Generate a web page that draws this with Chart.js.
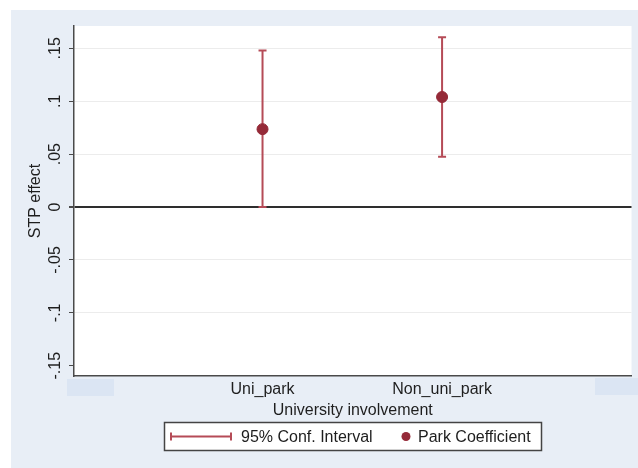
<!DOCTYPE html>
<html>
<head>
<meta charset="utf-8">
<script src="https://cdn.jsdelivr.net/npm/chart.js@4.4.1/dist/chart.umd.min.js"></script>
<style>
  html, body { margin: 0; padding: 0; background: #ffffff; }
  #wrap { width: 638px; height: 468px; position: relative; }
</style>
</head>
<body>
<div id="wrap"><canvas id="c" width="638" height="468"></canvas></div>
<script>
// Park coefficients with 95% confidence intervals, by university involvement
const categories = ['Uni_park', 'Non_uni_park'];
const coefficients = [0.0736, 0.104];
const ciLower = [0.0, 0.0475];
const ciUpper = [0.148, 0.1605];

const yTickValues = [-0.15, -0.1, -0.05, 0, 0.05, 0.1, 0.15];
const yTickLabels = ['-.15', '-.1', '-.05', '0', '.05', '.1', '.15'];

const FONT = '"Liberation Sans", Arial, sans-serif';
const FONT_SIZE = 16;
const CI_COLOR = '#b54b57';
const DOT_COLOR = '#952a38';
const TEXT_COLOR = '#1e1e1e';
const AXIS_COLOR = '#4a4a4a';

const points = categories.map((c, i) => ({ x: i + 1, y: coefficients[i] }));

// Backgrounds: outer graph region, white plot region and the two pale boxes below the axis
const backgroundPlugin = {
  id: 'backgrounds',
  beforeDraw(chart) {
    const ctx = chart.ctx;
    const a = chart.chartArea;
    ctx.save();
    ctx.fillStyle = '#ffffff';
    ctx.fillRect(0, 0, chart.width, chart.height);
    ctx.fillStyle = '#e8eef6';
    ctx.fillRect(11, 10, chart.width - 11, chart.height - 10);
    ctx.fillStyle = '#ffffff';
    ctx.fillRect(a.left, a.top, a.right - a.left, a.bottom - a.top);
    ctx.fillStyle = '#dbe5f3';
    ctx.fillRect(67, a.bottom + 3, 47, 17);
    ctx.fillRect(595, a.bottom + 2, chart.width - 595, 17);
    ctx.restore();
  }
};

// Confidence interval whiskers, drawn beneath the coefficient markers
const ciPlugin = {
  id: 'ciBars',
  beforeDatasetsDraw(chart) {
    const ctx = chart.ctx;
    const xs = chart.scales.x, ys = chart.scales.y;
    ctx.save();
    ctx.strokeStyle = CI_COLOR;
    ctx.lineWidth = 2;
    categories.forEach((c, i) => {
      const px = xs.getPixelForValue(i + 1);
      const top = ys.getPixelForValue(ciUpper[i]);
      const bot = ys.getPixelForValue(ciLower[i]);
      ctx.beginPath();
      ctx.moveTo(px, top); ctx.lineTo(px, bot);
      ctx.moveTo(px - 4, top); ctx.lineTo(px + 4, top);
      ctx.moveTo(px - 4, bot); ctx.lineTo(px + 4, bot);
      ctx.stroke();
    });
    ctx.restore();
  }
};

// Vertical y tick labels and the boxed legend
const labelsPlugin = {
  id: 'labels',
  afterDraw(chart) {
    const ctx = chart.ctx;
    const ys = chart.scales.y;
    ctx.save();
    ctx.fillStyle = TEXT_COLOR;
    ctx.font = FONT_SIZE + 'px ' + FONT;
    ctx.textAlign = 'center';
    ctx.textBaseline = 'middle';
    yTickValues.forEach((v, i) => {
      const py = ys.getPixelForValue(v);
      ctx.save();
      ctx.translate(56, py);
      ctx.rotate(-Math.PI / 2);
      ctx.fillText(yTickLabels[i], 0, 0);
      ctx.restore();
    });

    // legend
    const lx = 164.5, ly = 422.5, lw = 377, lh = 28;
    ctx.fillStyle = '#ffffff';
    ctx.fillRect(lx, ly, lw, lh);
    ctx.strokeStyle = '#444444';
    ctx.lineWidth = 1.5;
    ctx.strokeRect(lx, ly, lw, lh);
    const cy = ly + lh / 2;
    ctx.strokeStyle = CI_COLOR;
    ctx.lineWidth = 2;
    ctx.beginPath();
    ctx.moveTo(171, cy); ctx.lineTo(231, cy);
    ctx.moveTo(171, cy - 4); ctx.lineTo(171, cy + 4);
    ctx.moveTo(231, cy - 4); ctx.lineTo(231, cy + 4);
    ctx.stroke();
    ctx.fillStyle = TEXT_COLOR;
    ctx.textAlign = 'left';
    ctx.fillText('95% Conf. Interval', 241, cy + 1);
    ctx.fillStyle = DOT_COLOR;
    ctx.beginPath();
    ctx.arc(406, cy, 4.5, 0, Math.PI * 2);
    ctx.fill();
    ctx.fillStyle = TEXT_COLOR;
    ctx.fillText('Park Coefficient', 418, cy + 1);
    ctx.restore();
  }
};

new Chart(document.getElementById('c'), {
  type: 'scatter',
  data: {
    datasets: [{
      label: 'Park Coefficient',
      data: points,
      backgroundColor: DOT_COLOR,
      borderColor: DOT_COLOR,
      pointRadius: 5.5,
      pointHoverRadius: 5.5
    }]
  },
  options: {
    responsive: false,
    animation: false,
    events: [],
    layout: { padding: { top: 26, right: 5, left: 0, bottom: 0 } },
    plugins: {
      legend: { display: false },
      tooltip: { enabled: false }
    },
    scales: {
      x: {
        type: 'linear',
        min: -0.05,
        max: 3.055,
        afterBuildTicks(scale) { scale.ticks = [{ value: 1 }, { value: 2 }]; },
        afterFit(scale) { scale.height = 92; },
        grid: { display: false, drawTicks: false },
        border: { display: true, color: AXIS_COLOR, width: 1.5 },
        ticks: {
          color: TEXT_COLOR,
          font: { family: FONT, size: FONT_SIZE },
          padding: 4,
          maxRotation: 0,
          callback: (v) => categories[v - 1] || ''
        },
        title: {
          display: true,
          text: 'University involvement',
          color: TEXT_COLOR,
          font: { family: FONT, size: FONT_SIZE },
          padding: { top: 0, bottom: 48 }
        }
      },
      y: {
        type: 'linear',
        min: -0.1597,
        max: 0.1711,
        afterBuildTicks(scale) { scale.ticks = yTickValues.map(v => ({ value: v })); },
        afterFit(scale) { scale.width = 74; },
        grid: {
          drawTicks: true,
          tickLength: 5,
          tickColor: AXIS_COLOR,
          color: (ctx) => {
            const v = ctx.tick ? ctx.tick.value : null;
            if (v === 0) return '#2e2e2e';
            if (v === -0.15) return 'rgba(0,0,0,0)';
            return '#ececec';
          },
          lineWidth: (ctx) => (ctx.tick && ctx.tick.value === 0 ? 2 : 1)
        },
        border: { display: true, color: AXIS_COLOR, width: 1.5 },
        ticks: { display: false },
        title: {
          display: true,
          text: 'STP effect',
          color: TEXT_COLOR,
          font: { family: FONT, size: FONT_SIZE },
          padding: { top: 26, bottom: 0 }
        }
      }
    }
  },
  plugins: [backgroundPlugin, ciPlugin, labelsPlugin]
});
</script>
</body>
</html>
